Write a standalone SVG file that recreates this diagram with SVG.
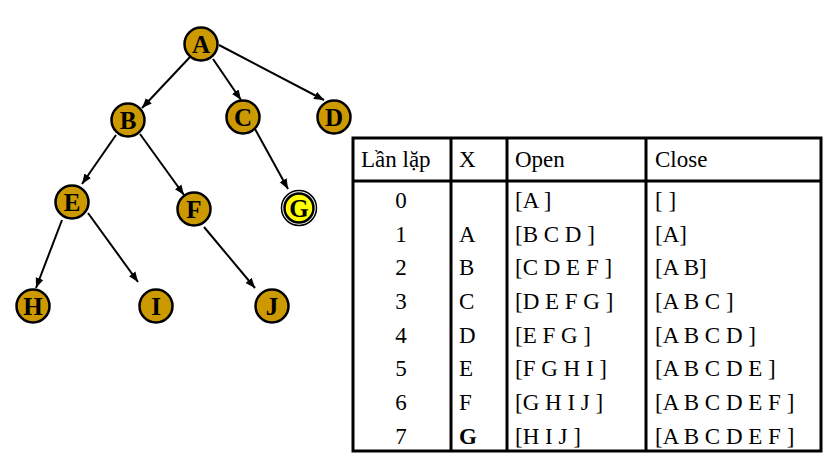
<svg xmlns="http://www.w3.org/2000/svg" width="835" height="467" viewBox="0 0 835 467">
<defs>
<marker id="arr" viewBox="0 0 10 10" refX="10" refY="5" markerWidth="10" markerHeight="10" markerUnits="userSpaceOnUse" orient="auto">
<path d="M0,1 L10,5 L0,9 Z" fill="#000"/>
</marker>
<style>
.n{fill:#CC9900;stroke:#000;stroke-width:2.5}
.nl{font-family:"Liberation Serif",serif;font-weight:bold;font-size:25px;text-anchor:middle;fill:#000}
.e{stroke:#000;stroke-width:2;fill:none;marker-end:url(#arr)}
.t{font-family:"Liberation Serif",serif;font-size:23px;fill:#000}
.c{text-anchor:middle}
.g{fill:none;stroke:#000;stroke-width:3}
</style>
</defs>
<rect width="835" height="467" fill="#fff"/>
<g id="edges">
<line class="e" x1="190" y1="57" x2="142" y2="108"/>
<line class="e" x1="213" y1="59" x2="241" y2="100"/>
<line class="e" x1="219" y1="45" x2="324" y2="100"/>
<line class="e" x1="116" y1="135" x2="82" y2="184"/>
<line class="e" x1="140" y1="134" x2="184" y2="195"/>
<line class="e" x1="255" y1="129" x2="288" y2="189"/>
<line class="e" x1="62" y1="220" x2="36" y2="288"/>
<line class="e" x1="88" y1="213" x2="138" y2="282"/>
<line class="e" x1="204" y1="227" x2="255" y2="288"/>
</g>
<g id="node-A"><circle class="n" cx="201" cy="44" r="16.5"/><text class="nl" x="201" y="52.5">A</text></g>
<g id="node-B"><circle class="n" cx="128" cy="120" r="16.5"/><text class="nl" x="128" y="128.5">B</text></g>
<g id="node-C"><circle class="n" cx="243" cy="117" r="16.5"/><text class="nl" x="243" y="125.5">C</text></g>
<g id="node-D"><circle class="n" cx="334" cy="117" r="16.5"/><text class="nl" x="334" y="125.5">D</text></g>
<g id="node-E"><circle class="n" cx="72" cy="202" r="16.5"/><text class="nl" x="72" y="210.5">E</text></g>
<g id="node-F"><circle class="n" cx="194" cy="209" r="16.5"/><text class="nl" x="194" y="217.5">F</text></g>
<g id="node-G"><circle cx="299" cy="208" r="17.5" fill="#fff" stroke="#000" stroke-width="1.5"/><circle cx="299" cy="208" r="14.5" fill="#FFFF00" stroke="#000" stroke-width="2.5"/><text class="nl" x="299" y="216.5">G</text></g>
<g id="node-H"><circle class="n" cx="33" cy="306" r="16.5"/><text class="nl" x="33" y="314.5">H</text></g>
<g id="node-I"><circle class="n" cx="156" cy="306" r="16.5"/><text class="nl" x="156" y="314.5">I</text></g>
<g id="node-J"><circle class="n" cx="272" cy="306" r="16.5"/><text class="nl" x="272" y="314.5">J</text></g>
<g id="table">
<rect class="g" x="353" y="138" width="468" height="313"/>
<line class="g" x1="353" y1="181" x2="821" y2="181"/>
<line class="g" x1="451" y1="138" x2="451" y2="451"/>
<line class="g" x1="507" y1="138" x2="507" y2="451"/>
<line class="g" x1="646" y1="138" x2="646" y2="451"/>
<text class="t" x="361" y="167">Lần lặp</text>
<text class="t" x="459" y="167">X</text>
<text class="t" x="515" y="167">Open</text>
<text class="t" x="655" y="167">Close</text>
<text class="t c" x="401" y="208">0</text><text class="t" x="515" y="208">[A ]</text><text class="t" x="655" y="208">[ ]</text>
<text class="t c" x="401" y="242">1</text><text class="t" x="459" y="242">A</text><text class="t" x="515" y="242">[B C D ]</text><text class="t" x="655" y="242">[A]</text>
<text class="t c" x="401" y="275">2</text><text class="t" x="459" y="275">B</text><text class="t" x="515" y="275">[C D E F ]</text><text class="t" x="655" y="275">[A B]</text>
<text class="t c" x="401" y="309">3</text><text class="t" x="459" y="309">C</text><text class="t" x="515" y="309">[D E F G ]</text><text class="t" x="655" y="309">[A B C ]</text>
<text class="t c" x="401" y="343">4</text><text class="t" x="459" y="343">D</text><text class="t" x="515" y="343">[E F G ]</text><text class="t" x="655" y="343">[A B C D ]</text>
<text class="t c" x="401" y="376">5</text><text class="t" x="459" y="376">E</text><text class="t" x="515" y="376">[F G H I ]</text><text class="t" x="655" y="376">[A B C D E ]</text>
<text class="t c" x="401" y="410">6</text><text class="t" x="459" y="410">F</text><text class="t" x="515" y="410">[G H I J ]</text><text class="t" x="655" y="410">[A B C D E F ]</text>
<text class="t c" x="401" y="444">7</text><text class="t" x="459" y="444" font-weight="bold">G</text><text class="t" x="515" y="444">[H I J ]</text><text class="t" x="655" y="444">[A B C D E F ]</text>
</g>
</svg>
